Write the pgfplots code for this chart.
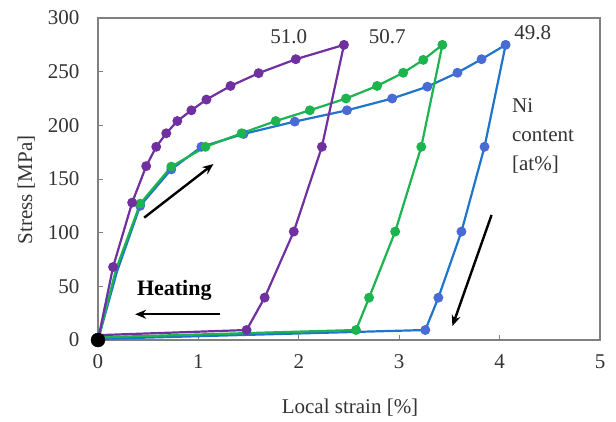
\documentclass[border=0pt]{standalone}
\usepackage{fontspec}
\setmainfont{Liberation Serif}
\usepackage{pgfplots}
\pgfplotsset{compat=1.18}
\usetikzlibrary{arrows.meta}
\definecolor{NiPurple}{HTML}{7030A0}
\definecolor{NiGreen}{HTML}{1DB34F}
\definecolor{NiBlue}{HTML}{1F74CC}
\definecolor{NiBlueMk}{HTML}{4A6AD6}
\definecolor{FrameGray}{HTML}{808080}
\definecolor{TickText}{HTML}{333333}

\begin{document}
\begin{tikzpicture}[x=1pt,y=1pt]
\begin{axis}[
    scale only axis,
    width=502pt, height=322pt,
    xmin=0, xmax=5, ymin=0, ymax=300,
    xtick={0,1,2,3,4,5},
    ytick={0,50,100,150,200,250,300},
    tick align=inside,
    xtick pos=bottom, ytick pos=left,
    major tick length=5pt,
    tick style={FrameGray, line width=1pt},
    axis line style={FrameGray, line width=1.6pt},
    /pgf/number format/assume math mode=true,
    ticklabel style={font=\fontsize{21}{24}\selectfont, text=TickText},
    xticklabel style={yshift=-11pt},
    yticklabel style={xshift=-15pt},
    xlabel={Local strain [\%]},
    ylabel={Stress [MPa]},
    every axis x label/.style={at={(axis description cs:0.502,-0.211)}, anchor=center,
        font=\fontsize{21}{24}\selectfont, text=TickText},
    every axis y label/.style={at={(axis description cs:-0.143,0.466)}, anchor=center, rotate=90,
        font=\fontsize{21}{24}\selectfont, text=TickText},
    clip=false,
]
% 49.8 at%
\addplot[NiBlue, line width=2.2pt, mark=*, mark size=3.8pt,
    mark options={fill=NiBlueMk, draw=NiBlueMk},
    mark indices={3,4,5,6,7,8,9,10,11,12,13,14,15,16,17}] coordinates {
    (0,0) (0.19,64) (0.42,125) (0.73,159) (1.03,180) (1.45,192)
    (1.96,203.5) (2.48,214) (2.93,225) (3.28,236) (3.58,249) (3.82,261.6)
    (4.06,275) (3.85,180) (3.62,101) (3.39,39.4) (3.26,9.3) (0,1)
};
% 50.7 at%
\addplot[NiGreen, line width=2.2pt, mark=*, mark size=3.8pt,
    mark options={fill=NiGreen, draw=NiGreen},
    mark indices={3,4,5,6,7,8,9,10,11,12,13,14,15,16,17}] coordinates {
    (0,0) (0.18,66) (0.42,127) (0.73,161.5) (1.07,180) (1.43,192.6)
    (1.77,204) (2.11,214) (2.47,225) (2.78,236.7) (3.04,249) (3.24,261)
    (3.43,275) (3.22,180) (2.96,101) (2.70,39.4) (2.57,9.3) (0,2.5)
};
% 51.0 at%
\addplot[NiPurple, line width=2.2pt, mark=*, mark size=3.8pt,
    mark options={fill=NiPurple, draw=NiPurple},
    mark indices={2,3,4,5,6,7,8,9,10,11,12,13,14,15,16,17}] coordinates {
    (0,0) (0.15,68) (0.34,128) (0.48,162) (0.58,180) (0.68,192.6)
    (0.79,204) (0.93,214) (1.08,224) (1.32,236.7) (1.60,248.6) (1.97,261.6)
    (2.45,275) (2.23,180) (1.95,101) (1.66,39.5) (1.48,9.3) (0,4.5)
};
% start point
\addplot[only marks, mark=*, mark size=7pt, black] coordinates {(0,0)};

\node[font=\fontsize{21}{24}\selectfont, text=TickText] at (axis cs:1.90,283) {51.0};
\node[font=\fontsize{21}{24}\selectfont, text=TickText] at (axis cs:2.88,283) {50.7};
\node[font=\fontsize{21}{24}\selectfont, text=TickText] at (axis cs:4.33,286) {49.8};
\node[font=\fontsize{21}{29}\selectfont, text=TickText, align=left, anchor=west]
    at (axis cs:4.09,190) {Ni\\content\\{[at\%]}};
\node[font=\bfseries\fontsize{22}{24}\selectfont, text=black] at (axis cs:0.76,46) {Heating};

\draw[-{Stealth[length=11pt,width=9pt]}, line width=2.4pt, black]
    (axis cs:1.22,24) -- (axis cs:0.37,24);
\draw[-{Stealth[length=11pt,width=9pt]}, line width=2.4pt, black]
    (axis cs:0.46,114) -- (axis cs:1.15,164);
\draw[-{Stealth[length=11pt,width=9pt]}, line width=2.4pt, black]
    (axis cs:3.92,116.5) -- (axis cs:3.53,13);

\coordinate (O) at (rel axis cs:0,0);
\end{axis}
\pgfresetboundingbox
\path[use as bounding box] (O) ++(-98pt,-81pt) rectangle ++(616pt,421pt);
\end{tikzpicture}
\end{document}
